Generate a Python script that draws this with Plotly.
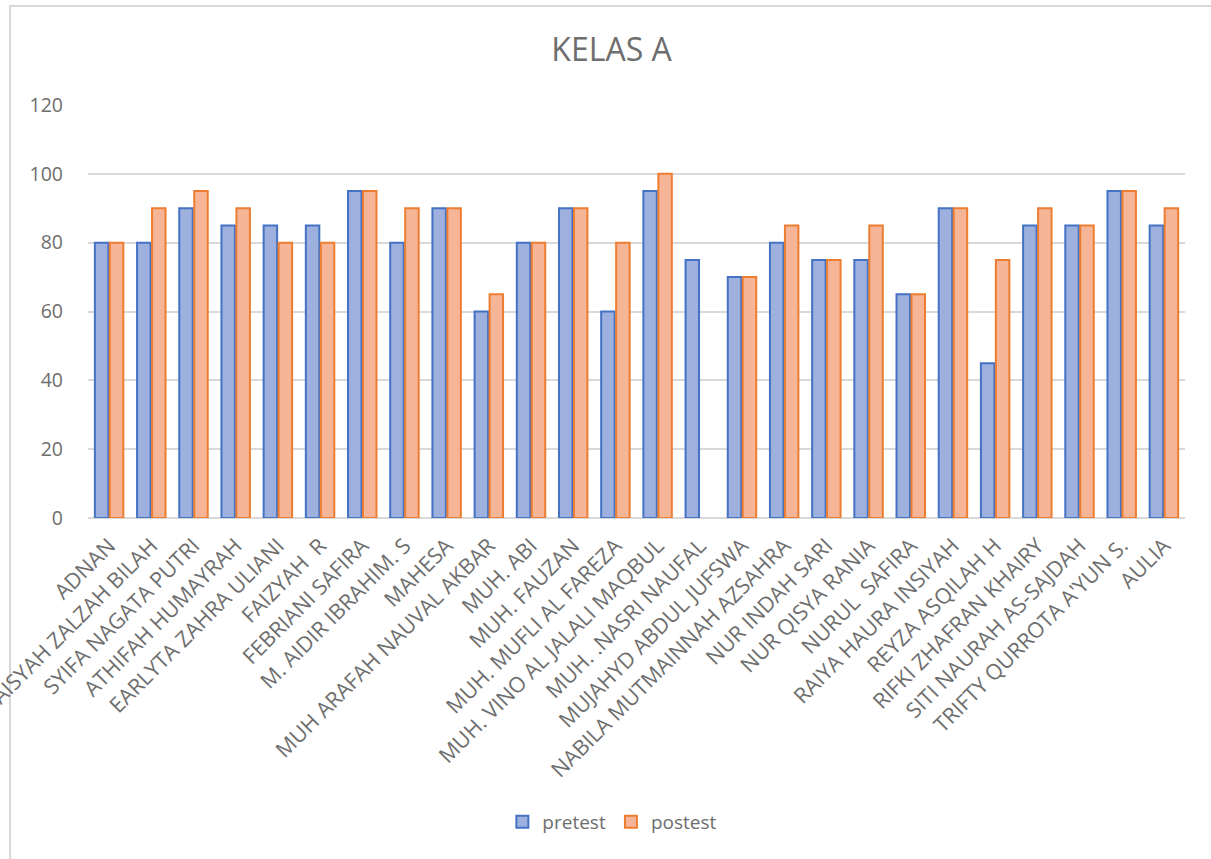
import plotly.graph_objects as go

names = [
    "ADNAN", "AISYAH ZALZAH BILAH", "SYIFA NAGATA PUTRI", "ATHIFAH HUMAYRAH",
    "EARLYTA ZAHRA ULIANI", "FAIZYAH  R", "FEBRIANI SAFIRA", "M. AIDIR IBRAHIM. S",
    "MAHESA", "MUH ARAFAH NAUVAL AKBAR", "MUH. ABI", "MUH. FAUZAN",
    "MUH. MUFLI AL FAREZA", "MUH. VINO AL JALALI MAQBUL", "MUH. .NASRI NAUFAL",
    "MUJAHYD ABDUL JUFSWA", "NABILA MUTMAINNAH AZSAHRA", "NUR INDAH SARI",
    "NUR QISYA RANIA", "NURUL  SAFIRA", "RAIYA HAURA INSIYAH", "REYZA ASQILAH H",
    "RIFKI ZHAFRAN KHAIRY", "SITI NAURAH AS-SAJDAH", "TRIFTY QURROTA A'YUN S.", "AULIA",
]
pretest = [80, 80, 90, 85, 85, 85, 95, 80, 90, 60, 80, 90, 60, 95, 75,
           70, 80, 75, 75, 65, 90, 45, 85, 85, 95, 85]
postest = [80, 90, 95, 90, 80, 80, 95, 90, 90, 65, 80, 90, 80, 100, None,
           70, 85, 75, 85, 65, 90, 75, 90, 85, 95, 90]
y_ticks = [0, 20, 40, 60, 80, 100, 120]

FONT = "Open Sans"
TXT = "#6E6E6E"

fig = go.Figure()
fig.add_trace(go.Bar(
    x=names, y=pretest, name="pretest",
    marker=dict(color="#9DB0DE", line=dict(color="#4472C4", width=2)),
))
fig.add_trace(go.Bar(
    x=names, y=postest, name="postest",
    marker=dict(color="#F6B596", line=dict(color="#ED7D31", width=2)),
))

# chart-area frame (left/top edges visible, right/bottom beyond the window)
fig.add_shape(type="rect", xref="paper", yref="paper",
              x0=-0.0711, x1=1.03, y0=-0.84, y1=1.2397,
              line=dict(color="#D9D9D9", width=2), layer="below")

fig.update_layout(
    width=1211, height=859,
    margin=dict(l=88, r=26, t=105, b=341, autoexpand=False),
    paper_bgcolor="white", plot_bgcolor="white",
    font=dict(family=FONT, color=TXT),
    title=dict(text="KELAS A", x=0.505, xanchor="center", y=1 - 50 / 859,
               yanchor="middle", font=dict(size=32, color=TXT, family=FONT)),
    barmode="group", bargap=0.29, bargroupgap=0.1,
    showlegend=True,
    legend=dict(orientation="h", x=0.478, xanchor="center", y=-0.736,
                yanchor="middle", font=dict(size=19, color=TXT, family=FONT),
                itemwidth=30, traceorder="normal"),
    xaxis=dict(tickangle=-45, tickfont=dict(size=21.5, color=TXT, family=FONT),
               showgrid=False, showline=False, ticks="", automargin=False,
               ticklabelstandoff=10),
    yaxis=dict(range=[0, 120], tickvals=y_ticks, showgrid=True,
               gridcolor="#D9D9D9", gridwidth=1.5, zeroline=True,
               zerolinecolor="#D9D9D9", zerolinewidth=1.5,
               tickfont=dict(size=19.5, color=TXT, family=FONT),
               ticklabelstandoff=24, automargin=False),
)

fig.write_html("out.html")
